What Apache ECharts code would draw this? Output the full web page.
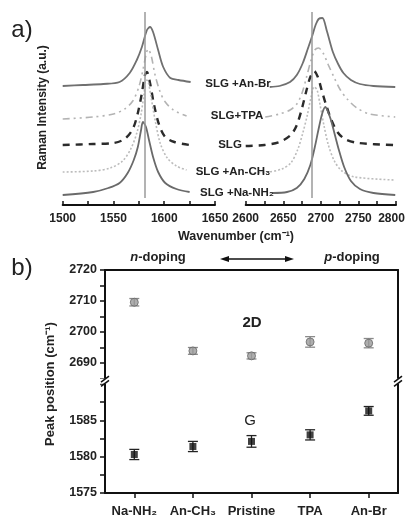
<!DOCTYPE html>
<html><head><meta charset="utf-8">
<script src="https://cdn.jsdelivr.net/npm/echarts@6/dist/echarts.min.js"></script>
<style>html,body{margin:0;padding:0;background:#fff}#c{width:405px;height:516px}</style>
</head><body><div id="c"></div>
<script>
// ---------- Panel a: Raman spectra (wavenumber, offset intensity a.u.) ----------
const anBrG   = [[1500,119],[1520,120],[1540,121],[1556,123],[1566,132],[1573,145],[1578,158],[1583,175],[1586,178],[1589,173],[1594,155],[1599,138],[1606,127],[1614,125],[1626,123]];
const anBr2D  = [[2632,118],[2645,119],[2659,123],[2668,130],[2676,142],[2683,157],[2688,168],[2693,180],[2697,186],[2702,187],[2708,174],[2716,153],[2723,141],[2730,132],[2740,125],[2752,121],[2770,119],[2799,118]];
const tpaG    = [[1500,86],[1530,88],[1550,91],[1561,96],[1569,104],[1575,118],[1579,135],[1582,150],[1584,156],[1587,150],[1591,130],[1596,113],[1601,103],[1609,95],[1622,89]];
const tpa2D   = [[2626,88],[2645,91],[2659,95],[2668,101],[2675,112],[2681,128],[2687,145],[2692,155],[2697,157],[2703,152],[2710,140],[2718,127],[2726,115],[2735,106],[2748,97],[2765,91],[2799,88]];
const slgG    = [[1500,60],[1530,61],[1550,62],[1561,66],[1569,76],[1574,92],[1578,112],[1581,130],[1583,133],[1586,122],[1590,100],[1595,80],[1601,68],[1610,63],[1625,60]];
const slg2D   = [[2600,59],[2625,60],[2645,63],[2660,70],[2668,80],[2675,97],[2681,115],[2686,128],[2691,134],[2696,128],[2701,115],[2707,100],[2714,85],[2722,73],[2732,66],[2750,62],[2799,60]];
const anCH3G  = [[1500,33],[1530,34],[1547,37],[1559,44],[1567,56],[1573,72],[1577,90],[1580,110],[1582,125],[1584,124],[1587,108],[1591,85],[1596,62],[1603,47],[1612,39],[1622,35]];
const anCH32D = [[2606,32],[2630,33],[2648,36],[2660,42],[2669,55],[2676,72],[2682,90],[2687,108],[2691,118],[2695,115],[2699,100],[2704,80],[2710,60],[2718,44],[2728,34],[2745,28],[2799,25]];
const naNH2G  = [[1500,10],[1530,13],[1545,17],[1556,22],[1564,32],[1570,45],[1574,58],[1577,74],[1579,83],[1582,78],[1585,65],[1589,48],[1594,33],[1601,22],[1612,16],[1625,13]];
const naNH22D = [[2636,12],[2655,13],[2668,17],[2678,26],[2686,40],[2692,58],[2697,76],[2702,92],[2706,98],[2709,94],[2713,86],[2718,72],[2724,55],[2731,38],[2740,24],[2752,16],[2770,12],[2799,10]];
const refLines = [1581, 2688];
const curveLabels = ['SLG +An-Br','SLG+TPA','SLG','SLG +An-CH₃','SLG +Na-NH₂'];

// ---------- Panel b: peak positions ----------
const samples = ['Na-NH₂','An-CH₃','Pristine','TPA','An-Br'];
const pos2D = [2709.6, 2693.9, 2692.3, 2696.8, 2696.4];
const err2D = [1.2, 1.1, 1.0, 1.7, 1.5];
const posG  = [1580.3, 1581.4, 1582.1, 1583.0, 1586.3];
const errG  = [0.7, 0.7, 0.8, 0.7, 0.6];

const F = 'Liberation Sans, Arial, sans-serif';
const chart = echarts.init(document.getElementById('c'), null, {renderer:'canvas'});

// layout
const gA = {top:10, h:195};
const gL = {left:62.7, w:152.3};
const gR = {left:245.7, w:150.3};
const gB = {left:105, right:7, top:270, hU:108.5, topL:384, hL:109};

function line(name, data, xi, color, type, width){
  return {name, type:'line', xAxisIndex:xi, yAxisIndex:xi, data, showSymbol:false, symbol:'none',
    smooth:0.3, lineStyle:{color, type, width}, z:3, silent:true};
}
const sty = {
  anBr:['#707070','solid',1.8], tpa:['#b3b3b3',[7,4,2,4,2,4],1.6], slg:['#2b2b2b',[7,6],2.4],
  anCH3:['#bcbcbc',[2,2],1.6], naNH2:['#6a6a6a','solid',1.8]
};
function errItem(color, capW){
  return function(params, api){
    const lo = api.coord([api.value(0), api.value(1)]);
    const hi = api.coord([api.value(0), api.value(2)]);
    const s = {stroke:color, lineWidth:1.3};
    return {type:'group', children:[
      {type:'line', shape:{x1:lo[0],y1:lo[1],x2:hi[0],y2:hi[1]}, style:s},
      {type:'line', shape:{x1:lo[0]-capW,y1:lo[1],x2:lo[0]+capW,y2:lo[1]}, style:s},
      {type:'line', shape:{x1:hi[0]-capW,y1:hi[1],x2:hi[0]+capW,y2:hi[1]}, style:s}
    ]};
  };
}

const axLbl = {fontFamily:F, fontWeight:'bold', fontSize:11, color:'#222'};
const series = [
  line('An-Br', anBrG, 0, ...sty.anBr), line('An-Br', anBr2D, 1, ...sty.anBr),
  line('TPA', tpaG, 0, ...sty.tpa), line('TPA', tpa2D, 1, ...sty.tpa),
  line('SLG', slgG, 0, ...sty.slg), line('SLG', slg2D, 1, ...sty.slg),
  line('An-CH3', anCH3G, 0, ...sty.anCH3), line('An-CH3', anCH32D, 1, ...sty.anCH3),
  line('Na-NH2', naNH2G, 0, ...sty.naNH2), line('Na-NH2', naNH22D, 1, ...sty.naNH2),
];
// reference vertical lines
series[0].markLine = {silent:true, symbol:'none', label:{show:false}, lineStyle:{color:'#9a9a9a', type:'solid', width:1.5},
  data:[[{coord:[refLines[0],7]},{coord:[refLines[0],193]}]]};
series[1].markLine = {silent:true, symbol:'none', label:{show:false}, lineStyle:{color:'#9a9a9a', type:'solid', width:1.5},
  data:[[{coord:[refLines[1],7]},{coord:[refLines[1],193]}]]};

// panel b series
series.push({type:'custom', xAxisIndex:2, yAxisIndex:2, renderItem:errItem('#8a8a8a',5), encode:{x:0,y:[1,2]},
  data:samples.map((s,i)=>[i, pos2D[i]-err2D[i], pos2D[i]+err2D[i]]), z:2, silent:true});
series.push({type:'scatter', xAxisIndex:2, yAxisIndex:2, symbol:'circle', symbolSize:8,
  itemStyle:{color:'#9a9a9a', borderColor:'#666', borderWidth:1}, data:pos2D.map((v,i)=>[i,v]), z:3, silent:true});
series.push({type:'custom', xAxisIndex:3, yAxisIndex:4, renderItem:errItem('#222',5), encode:{x:0,y:[1,2]},
  data:samples.map((s,i)=>[i, posG[i]-errG[i], posG[i]+errG[i]]), z:2, silent:true});
series.push({type:'scatter', xAxisIndex:3, yAxisIndex:4, symbol:'rect', symbolSize:7,
  itemStyle:{color:'#111'}, data:posG.map((v,i)=>[i,v]), z:3, silent:true});

const boldLine = {show:true, lineStyle:{color:'#111', width:2}};
const option = {
  animation:false,
  grid:[
    {left:gL.left, top:gA.top, width:gL.w, height:gA.h, outerBoundsMode:'none', containLabel:false},
    {left:gR.left, top:gA.top, width:gR.w, height:gA.h, outerBoundsMode:'none', containLabel:false},
    {left:gB.left, right:gB.right, top:gB.top, height:gB.hU, outerBoundsMode:'none', containLabel:false},
    {left:gB.left, right:gB.right, top:gB.topL, height:gB.hL, outerBoundsMode:'none', containLabel:false}
  ],
  xAxis:[
    {type:'value', gridIndex:0, min:1500, max:1650, interval:25, axisLine:boldLine,
      axisTick:{inside:true, length:4, lineStyle:{color:'#111', width:1.5}}, splitLine:{show:false},
      axisLabel:{...axLbl, fontSize:12, margin:8, formatter:v=> v%50===0 ? String(v) : ''}},
    {type:'value', gridIndex:1, min:2600, max:2800, interval:25, axisLine:boldLine,
      axisTick:{inside:true, length:4, lineStyle:{color:'#111', width:1.5}}, splitLine:{show:false},
      axisLabel:{...axLbl, fontSize:12, margin:8,
        formatter:v=> v===2800 ? '{m|2800}' : (v%50===0 ? String(v) : ''),
        rich:{m:{fontFamily:F, fontWeight:'bold', fontSize:12, color:'#222', padding:[0,9,0,0]}}}},
    {type:'category', gridIndex:2, data:samples, position:'top', boundaryGap:true, axisLine:boldLine,
      axisTick:{show:false}, axisLabel:{show:false}},
    {type:'category', gridIndex:3, data:samples, position:'bottom', boundaryGap:true, axisLine:boldLine,
      axisTick:{show:true, alignWithLabel:true, length:5, lineStyle:{color:'#111', width:1.5}},
      axisLabel:{...axLbl, fontSize:13, margin:12, interval:0, hideOverlap:false}}
  ],
  yAxis:[
    {type:'value', gridIndex:0, min:0, max:195, show:true, axisLine:{show:false}, axisTick:{show:false},
      axisLabel:{show:false}, splitLine:{show:false},
      name:'Raman Intensity (a.u.)', nameLocation:'middle', nameGap:14, nameRotate:90,
      nameTextStyle:{...axLbl, fontSize:12}},
    {type:'value', gridIndex:1, min:0, max:195, show:false},
    {type:'value', gridIndex:2, min:2685, max:2720, interval:5, axisLine:boldLine,
      axisTick:{show:true, length:5, lineStyle:{color:'#111', width:1.5}}, splitLine:{show:false},
      axisLabel:{...axLbl, fontSize:12.5, margin:8, formatter:v=> v%10===0 ? String(v) : ''}},
    {type:'value', gridIndex:2, position:'right', min:2685, max:2720, interval:5, axisLine:boldLine,
      axisTick:{show:false}, axisLabel:{show:false}, splitLine:{show:false}},
    {type:'value', gridIndex:3, min:1575, max:1590, interval:2.5, axisLine:boldLine,
      axisTick:{show:true, length:5, lineStyle:{color:'#111', width:1.5}}, splitLine:{show:false},
      axisLabel:{...axLbl, fontSize:12.5, margin:8, formatter:v=> (v%5===0 && v<1590) ? String(v) : ''}},
    {type:'value', gridIndex:3, position:'right', min:1575, max:1590, interval:2.5, axisLine:boldLine,
      axisTick:{show:false}, axisLabel:{show:false}, splitLine:{show:false}}
  ],
  series
};
chart.setOption(option);

// ----- annotations -----
const txt = (x,y,text,extra)=>({type:'text', x, y, z:10, silent:true,
  style:Object.assign({text, fontFamily:F, fontWeight:'bold', fontSize:11.5, fill:'#222', align:'center', verticalAlign:'middle'}, extra||{})});
const labelY = [84, 116, 145, 172, 193];
const labelX = [238, 237, 230, 233, 237];
const g = [];
g.push(txt(22, 30, 'a)', {fontWeight:'normal', fontSize:24, fill:'#222'}));
g.push(txt(22, 268, 'b)', {fontWeight:'normal', fontSize:24, fill:'#222'}));
curveLabels.forEach((t,i)=> g.push(txt(labelX[i], labelY[i], t)));
g.push(txt(236, 237, 'Wavenumber (cm⁻¹)', {fontSize:12.5}));
g.push({type:'text', x:50, y:384, rotation:Math.PI/2, z:10, silent:true,
  style:{text:'Peak position (cm⁻¹)', fontFamily:F, fontWeight:'bold', fontSize:13, fill:'#222', align:'center', verticalAlign:'middle'}});
const rich = {i:{fontStyle:'italic', fontWeight:'bold', fontFamily:F, fontSize:13, fill:'#222'}};
g.push({type:'text', x:158, y:257, z:10, silent:true, style:{text:'{i|n}-doping', fontFamily:F, fontWeight:'bold', fontSize:13, fill:'#222',
  align:'center', verticalAlign:'middle', rich}});
g.push({type:'text', x:352, y:257, z:10, silent:true, style:{text:'{i|p}-doping', fontFamily:F, fontWeight:'bold', fontSize:13, fill:'#222',
  align:'center', verticalAlign:'middle', rich}});
// double arrow
g.push({type:'line', silent:true, shape:{x1:226,y1:259,x2:288,y2:259}, style:{stroke:'#111', lineWidth:1.5}});
g.push({type:'polygon', silent:true, shape:{points:[[220,259],[229,256],[229,262]]}, style:{fill:'#111'}});
g.push({type:'polygon', silent:true, shape:{points:[[294,259],[285,256],[285,262]]}, style:{fill:'#111'}});
g.push(txt(252, 323, '2D', {fontSize:15}));
g.push(txt(250, 421, 'G', {fontSize:15, fontWeight:'normal'}));
// axis break marks
const brkY = (gB.top + gB.hU + gB.topL)/2;
[gB.left, 405 - gB.right].forEach(x=>{
  g.push({type:'rect', silent:true, shape:{x:x-5, y:brkY-2.5, width:10, height:5}, style:{fill:'#fff'}, z:9});
  [-2.2, 2.2].forEach(d=> g.push({type:'line', silent:true, z:10, shape:{x1:x-4, y1:brkY+d+3, x2:x+4, y2:brkY+d-3}, style:{stroke:'#111', lineWidth:1.5}}));
});
chart.setOption({graphic:g});
</script></body></html>
